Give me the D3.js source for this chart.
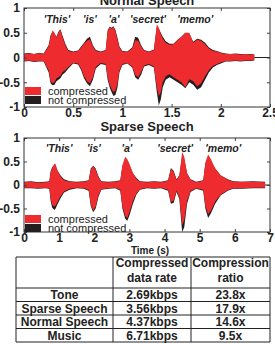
<!DOCTYPE html>
<html>
<head>
<meta charset="utf-8">
<script src="https://cdn.jsdelivr.net/npm/d3@7"></script>
<style>
  body { margin: 0; background: #fff; }
  svg text { font-family: "Liberation Sans", Arial, sans-serif; fill: #222; }
</style>
</head>
<body>
<svg id="chart" width="275" height="344"></svg>
<script>
// ---- data (envelopes) ----
const normalTime = [0, 0.05, 0.1, 0.15, 0.2, 0.25, 0.27, 0.29, 0.31, 0.33, 0.35, 0.37, 0.39, 0.42, 0.45,
  0.5, 0.55, 0.58, 0.61, 0.64, 0.67, 0.7, 0.73, 0.78, 0.83, 0.85, 0.87, 0.89, 0.91, 0.93,
  0.95, 0.97, 1.0, 1.05, 1.1, 1.13, 1.16, 1.19, 1.22, 1.27, 1.32, 1.35, 1.37, 1.39, 1.41,
  1.44, 1.48, 1.52, 1.56, 1.6, 1.64, 1.68, 1.72, 1.76, 1.8, 1.84, 1.88, 1.92, 1.96, 2.0,
  2.05, 2.1, 2.15, 2.2, 2.25, 2.3, 2.34];
const normalRawUp = [0.08, 0.09, 0.07, 0.09, 0.08, 0.25, 0.45, 0.52, 0.48, 0.42, 0.52, 0.57, 0.45, 0.28, 0.15,
  0.12, 0.14, 0.22, 0.30, 0.38, 0.42, 0.25, 0.15, 0.12, 0.15, 0.55, 0.62, 0.60, 0.63, 0.55,
  0.40, 0.22, 0.13, 0.12, 0.20, 0.42, 0.40, 0.25, 0.15, 0.12, 0.16, 0.62, 0.58, 0.50, 0.42,
  0.33, 0.28, 0.28, 0.36, 0.42, 0.50, 0.48, 0.32, 0.38, 0.36, 0.30, 0.20, 0.15, 0.13, 0.10,
  0.08, 0.07, 0.08, 0.07, 0.07, 0.07, 0.06];
const normalRawLo = [-0.08, -0.07, -0.09, -0.08, -0.08, -0.30, -0.52, -0.56, -0.55, -0.48, -0.45, -0.42, -0.35, -0.30, -0.22,
  -0.12, -0.14, -0.25, -0.42, -0.52, -0.58, -0.45, -0.22, -0.13, -0.15, -0.45, -0.60, -0.70, -0.78, -0.75,
  -0.60, -0.30, -0.15, -0.12, -0.20, -0.40, -0.45, -0.35, -0.18, -0.15, -0.20, -0.70, -0.97, -0.85, -0.60,
  -0.45, -0.40, -0.45, -0.50, -0.55, -0.62, -0.50, -0.55, -0.65, -0.60, -0.45, -0.30, -0.20, -0.15, -0.12,
  -0.08, -0.08, -0.07, -0.08, -0.07, -0.07, -0.06];
const normalCompUp = [0.07, 0.08, 0.07, 0.08, 0.07, 0.22, 0.42, 0.55, 0.50, 0.40, 0.50, 0.56, 0.42, 0.25, 0.13,
  0.11, 0.13, 0.20, 0.28, 0.34, 0.37, 0.22, 0.13, 0.11, 0.14, 0.52, 0.62, 0.58, 0.62, 0.52,
  0.36, 0.20, 0.12, 0.11, 0.18, 0.35, 0.34, 0.22, 0.14, 0.11, 0.15, 0.67, 0.60, 0.48, 0.38,
  0.30, 0.26, 0.27, 0.35, 0.42, 0.50, 0.50, 0.30, 0.36, 0.34, 0.27, 0.18, 0.13, 0.12, 0.09,
  0.07, 0.07, 0.07, 0.06, 0.07, 0.06, 0.06];
const normalCompLo = [-0.07, -0.06, -0.08, -0.07, -0.07, -0.26, -0.48, -0.52, -0.50, -0.42, -0.40, -0.37, -0.30, -0.26, -0.19,
  -0.11, -0.12, -0.22, -0.38, -0.48, -0.52, -0.40, -0.19, -0.11, -0.13, -0.40, -0.55, -0.64, -0.70, -0.66,
  -0.52, -0.26, -0.13, -0.11, -0.18, -0.35, -0.40, -0.30, -0.16, -0.13, -0.18, -0.60, -0.78, -0.70, -0.50,
  -0.38, -0.34, -0.40, -0.45, -0.50, -0.60, -0.44, -0.48, -0.58, -0.52, -0.38, -0.25, -0.17, -0.13, -0.10,
  -0.07, -0.07, -0.06, -0.07, -0.06, -0.06, -0.05];

const sparseTime = [0, 0.2, 0.4, 0.6, 0.72, 0.76, 0.8, 0.86, 0.9, 0.96, 1.04, 1.14, 1.3, 1.5, 1.7,
  1.84, 1.9, 1.97, 2.04, 2.12, 2.2, 2.4, 2.6, 2.74, 2.8, 2.88, 2.94, 3.0, 3.1, 3.2,
  3.3, 3.5, 3.7, 3.9, 4.1, 4.18, 4.26, 4.34, 4.42, 4.5, 4.56, 4.64, 4.74, 4.9, 5.1,
  5.16, 5.24, 5.32, 5.44, 5.6, 5.8, 5.95, 6.2, 6.5, 6.86];
const sparseRawUp = [0.07, 0.08, 0.06, 0.07, 0.08, 0.30, 0.38, 0.42, 0.40, 0.30, 0.20, 0.12, 0.08, 0.07, 0.08,
  0.10, 0.35, 0.41, 0.35, 0.18, 0.08, 0.07, 0.08, 0.10, 0.40, 0.52, 0.50, 0.42, 0.25, 0.15,
  0.08, 0.07, 0.08, 0.07, 0.10, 0.36, 0.30, 0.12, 0.20, 0.60, 0.55, 0.25, 0.12, 0.07, 0.10,
  0.45, 0.55, 0.50, 0.35, 0.20, 0.12, 0.08, 0.07, 0.08, 0.07];
const sparseRawLo = [-0.07, -0.07, -0.08, -0.07, -0.08, -0.35, -0.48, -0.53, -0.50, -0.40, -0.28, -0.16, -0.10, -0.07, -0.08,
  -0.12, -0.45, -0.58, -0.50, -0.25, -0.10, -0.08, -0.07, -0.12, -0.50, -0.72, -0.76, -0.65, -0.40, -0.20,
  -0.10, -0.07, -0.08, -0.07, -0.12, -0.40, -0.38, -0.15, -0.30, -1.0, -0.90, -0.40, -0.15, -0.08, -0.12,
  -0.50, -0.70, -0.60, -0.40, -0.22, -0.12, -0.08, -0.08, -0.07, -0.07];
const sparseCompUp = [0.06, 0.07, 0.05, 0.06, 0.07, 0.28, 0.35, 0.45, 0.44, 0.30, 0.18, 0.10, 0.07, 0.06, 0.07,
  0.09, 0.33, 0.40, 0.33, 0.16, 0.07, 0.06, 0.07, 0.09, 0.42, 0.60, 0.55, 0.45, 0.25, 0.13,
  0.07, 0.06, 0.07, 0.06, 0.09, 0.34, 0.28, 0.10, 0.20, 0.70, 0.60, 0.25, 0.11, 0.06, 0.09,
  0.48, 0.65, 0.55, 0.35, 0.20, 0.11, 0.07, 0.07, 0.07, 0.06];
const sparseCompLo = [-0.06, -0.06, -0.07, -0.06, -0.07, -0.30, -0.42, -0.46, -0.44, -0.35, -0.24, -0.14, -0.08, -0.06, -0.07,
  -0.10, -0.42, -0.55, -0.46, -0.22, -0.09, -0.07, -0.06, -0.10, -0.45, -0.66, -0.70, -0.58, -0.34, -0.18,
  -0.09, -0.06, -0.07, -0.06, -0.10, -0.36, -0.33, -0.12, -0.26, -0.85, -0.75, -0.34, -0.13, -0.07, -0.10,
  -0.45, -0.62, -0.55, -0.35, -0.20, -0.11, -0.07, -0.07, -0.06, -0.06];

const words = ["'This'", "'is'", "'a'", "'secret'", "'memo'"];
const normalWordTimes = [0.335, 0.67, 0.915, 1.26, 1.74];
const sparseWordTimes = [1.0, 1.99, 2.93, 4.3, 5.67];

const yTicks = [-1, -0.5, 0, 0.5, 1];
const normalXTicks = [0, 0.5, 1, 1.5, 2, 2.5];
const sparseXTicks = [0, 1, 2, 3, 4, 5, 6, 7];
const legendLabels = ["compressed", "not compressed"];

const tableHead = ["", "Compressed\ndata rate", "Compression\nratio"];
const tableCats = ["Tone", "Sparse Speech", "Normal Speech", "Music"];
const tableRates = ["2.69kbps", "3.56kbps", "4.37kbps", "6.71kbps"];
const tableRatios = ["23.8x", "17.9x", "14.6x", "9.5x"];

const RED = "#ee2b2e", BLACK = "#231f20";

const svg = d3.select("#chart");

function panel(opt) {
  const x = d3.scaleLinear().domain(opt.xDomain).range([24, 270]);
  const y = d3.scaleLinear().domain([-1, 1]).range([opt.bottom, opt.top]);
  const g = svg.append("g");
  const clipId = "clip-" + opt.id;
  g.append("clipPath").attr("id", clipId)
    .append("rect").attr("x", 24).attr("y", opt.top)
    .attr("width", 246).attr("height", opt.bottom - opt.top);

  const wave = g.append("g").attr("clip-path", "url(#" + clipId + ")");
  const rows = opt.time.map((t, i) => ({t: t, ru: opt.rawUp[i], rl: opt.rawLo[i], cu: opt.compUp[i], cl: opt.compLo[i]}));

  // flat line after the recording ends
  wave.append("line")
    .attr("x1", x(opt.time[opt.time.length - 1])).attr("x2", x(opt.xDomain[1]))
    .attr("y1", y(0)).attr("y2", y(0))
    .attr("stroke", BLACK).attr("stroke-width", 1);

  wave.append("path").datum(rows)
    .attr("fill", BLACK)
    .attr("d", d3.area().x(d => x(d.t)).y0(d => y(d.rl)).y1(d => y(d.ru)));
  wave.append("path").datum(rows)
    .attr("fill", RED)
    .attr("d", d3.area().x(d => x(d.t)).y0(d => y(d.cl)).y1(d => y(d.cu)));

  // axes with inward ticks
  g.append("g").attr("transform", "translate(24,0)")
    .call(d3.axisLeft(y).tickValues(yTicks).tickSize(-3).tickPadding(4).tickFormat(d => String(d)))
    .call(s => s.select(".domain").remove())
    .call(s => s.selectAll("text").attr("font-size", 12).attr("font-weight", "bold").attr("fill", "#222"));
  g.append("g").attr("transform", "translate(270,0)")
    .call(d3.axisRight(y).tickValues(yTicks).tickSize(-3).tickFormat(""))
    .call(s => s.select(".domain").remove());
  g.append("g").attr("transform", "translate(0," + opt.bottom + ")")
    .call(d3.axisBottom(x).tickValues(opt.xTicks).tickSize(-3).tickPadding(1).tickFormat(d => String(d)))
    .call(s => s.select(".domain").remove())
    .call(s => s.selectAll("text").attr("font-size", 12).attr("font-weight", "bold").attr("fill", "#222"));
  g.append("g").attr("transform", "translate(0," + opt.top + ")")
    .call(d3.axisTop(x).tickValues(opt.xTicks).tickSize(-3).tickFormat(""))
    .call(s => s.select(".domain").remove());
  g.selectAll(".tick line").attr("stroke", "#444");

  g.append("rect")
    .attr("x", 24).attr("y", opt.top)
    .attr("width", 246).attr("height", opt.bottom - opt.top)
    .attr("fill", "none").attr("stroke", "#333").attr("stroke-width", 1);

  g.append("text")
    .attr("x", 147).attr("y", opt.titleY)
    .attr("text-anchor", "middle")
    .attr("font-size", 13).attr("font-weight", "bold")
    .text(opt.title);

  g.selectAll(".word").data(words).enter().append("text")
    .attr("x", (d, i) => x(opt.wordTimes[i]))
    .attr("y", opt.wordY)
    .attr("text-anchor", "middle")
    .attr("font-size", 10.5).attr("font-weight", "bold").attr("font-style", "italic")
    .attr("fill", "#333")
    .text(d => d);

  const leg = g.selectAll(".leg").data(legendLabels).enter().append("g")
    .attr("transform", (d, i) => "translate(25," + (opt.legendY + i * 9) + ")");
  leg.append("rect").attr("width", 16).attr("height", 8)
    .attr("fill", (d, i) => i === 0 ? RED : BLACK);
  leg.append("text").attr("x", 23).attr("y", 7.5)
    .attr("font-size", 11)
    .text(d => d);

  return x;
}

panel({
  id: "normal", title: "Normal Speech", titleY: 5,
  top: 8, bottom: 107, xDomain: [0, 2.5], xTicks: normalXTicks,
  time: normalTime, rawUp: normalRawUp, rawLo: normalRawLo, compUp: normalCompUp, compLo: normalCompLo,
  wordTimes: normalWordTimes, wordY: 23, legendY: 87
});

panel({
  id: "sparse", title: "Sparse Speech", titleY: 131,
  top: 138, bottom: 232, xDomain: [0, 7], xTicks: sparseXTicks,
  time: sparseTime, rawUp: sparseRawUp, rawLo: sparseRawLo, compUp: sparseCompUp, compLo: sparseCompLo,
  wordTimes: sparseWordTimes, wordY: 152, legendY: 215
});

svg.append("text")
  .attr("x", 150).attr("y", 254)
  .attr("text-anchor", "middle")
  .attr("font-size", 10).attr("font-weight", "bold")
  .text("Time (s)");

// ---- table ----
const colX = [16, 113, 191, 270];
const rowY = [257, 288, 301.5, 315, 328.5, 342];
const table = svg.append("g");

table.selectAll(".hl").data(rowY).enter().append("line")
  .attr("x1", colX[0]).attr("x2", colX[3])
  .attr("y1", d => d).attr("y2", d => d)
  .attr("stroke", "#222").attr("stroke-width", 1);
table.selectAll(".vl").data(colX).enter().append("line")
  .attr("x1", d => d).attr("x2", d => d)
  .attr("y1", rowY[0]).attr("y2", rowY[rowY.length - 1])
  .attr("stroke", "#222").attr("stroke-width", 1);

tableHead.forEach((h, c) => {
  h.split("\n").forEach((line, k) => {
    if (!line) return;
    table.append("text")
      .attr("x", (colX[c] + colX[c + 1]) / 2)
      .attr("y", 267 + k * 14.5)
      .attr("text-anchor", "middle")
      .attr("font-size", 12).attr("font-weight", "bold")
      .text(line);
  });
});

const tableCols = [tableCats, tableRates, tableRatios];
tableCols.forEach((col, c) => {
  table.selectAll(".c" + c).data(col).enter().append("text")
    .attr("x", (colX[c] + colX[c + 1]) / 2)
    .attr("y", (d, i) => (rowY[i + 1] + rowY[i + 2]) / 2 + 4.3)
    .attr("text-anchor", "middle")
    .attr("font-size", 12).attr("font-weight", "bold")
    .text(d => d);
});
</script>
</body>
</html>
